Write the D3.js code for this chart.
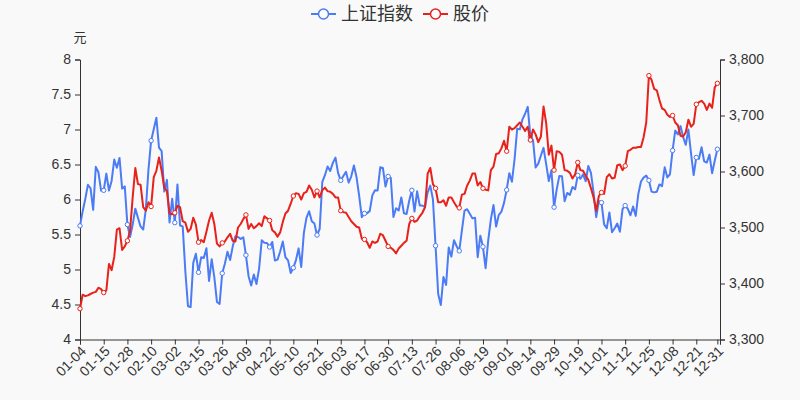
<!DOCTYPE html>
<html>
  <head>
    <meta charset="utf-8">
    <title>上证指数 vs 股价</title>
    <script type="text/javascript" src="https://d3js.org/d3.v7.min.js"></script>
    <style>
      body { margin: 0; background: #f9f9f9; }
      text { font-family: "Liberation Sans", Arial, "Noto Sans CJK SC", sans-serif; fill: #333; }
    </style>
  </head>

  <body>
    <script>

    // trading days 2021
    var dates = [
      "01-04","01-05","01-06","01-07","01-08","01-11","01-12","01-13","01-14","01-15","01-18","01-19","01-20","01-21","01-22","01-25","01-26","01-27","01-28","01-29",
      "02-01","02-02","02-03","02-04","02-05","02-08","02-09","02-10","02-18","02-19","02-22","02-23","02-24","02-25","02-26",
      "03-01","03-02","03-03","03-04","03-05","03-08","03-09","03-10","03-11","03-12","03-15","03-16","03-17","03-18","03-19","03-22","03-23","03-24","03-25","03-26","03-29","03-30","03-31",
      "04-01","04-02","04-06","04-07","04-08","04-09","04-12","04-13","04-14","04-15","04-16","04-19","04-20","04-21","04-22","04-23","04-26","04-27","04-28","04-29","04-30",
      "05-06","05-07","05-10","05-11","05-12","05-13","05-14","05-17","05-18","05-19","05-20","05-21","05-24","05-25","05-26","05-27","05-28","05-31",
      "06-01","06-02","06-03","06-04","06-07","06-08","06-09","06-10","06-11","06-15","06-16","06-17","06-18","06-21","06-22","06-23","06-24","06-25","06-28","06-29","06-30",
      "07-01","07-02","07-05","07-06","07-07","07-08","07-09","07-12","07-13","07-14","07-15","07-16","07-19","07-20","07-21","07-22","07-23","07-26","07-27","07-28","07-29","07-30",
      "08-02","08-03","08-04","08-05","08-06","08-09","08-10","08-11","08-12","08-13","08-16","08-17","08-18","08-19","08-20","08-23","08-24","08-25","08-26","08-27","08-30","08-31",
      "09-01","09-02","09-03","09-06","09-07","09-08","09-09","09-10","09-13","09-14","09-15","09-16","09-17","09-22","09-23","09-24","09-27","09-28","09-29","09-30",
      "10-08","10-11","10-12","10-13","10-14","10-15","10-18","10-19","10-20","10-21","10-22","10-25","10-26","10-27","10-28","10-29",
      "11-01","11-02","11-03","11-04","11-05","11-08","11-09","11-10","11-11","11-12","11-15","11-16","11-17","11-18","11-19","11-22","11-23","11-24","11-25","11-26","11-29","11-30",
      "12-01","12-02","12-03","12-06","12-07","12-08","12-09","12-10","12-13","12-14","12-15","12-16","12-17","12-20","12-21","12-22","12-23","12-24","12-27","12-28","12-29","12-30","12-31"
    ];

    // 上证指数 (right axis)
    var indexValues = [
      3502.96,3528.68,3550.88,3576.20,3570.11,3531.50,3608.34,3598.65,3565.90,3566.38,3596.22,3566.12,3583.09,3621.26,3606.75,3624.24,3569.43,3573.34,3505.18,3483.07,
      3505.28,3533.68,3517.31,3501.86,3496.33,3532.71,3603.49,3655.09,3675.36,3696.17,3642.44,3636.36,3564.08,3585.05,3509.08,
      3551.40,3508.59,3576.90,3503.49,3501.99,3421.41,3359.29,3357.74,3436.83,3453.08,3419.95,3446.73,3445.55,3463.07,3404.66,3443.44,3411.51,3367.06,3363.59,3418.33,3435.30,3456.68,3441.91,
      3466.33,3484.39,3482.99,3479.63,3482.56,3450.68,3412.95,3396.47,3416.10,3398.99,3426.62,3477.07,3472.94,3472.31,3465.11,3474.17,3441.17,3442.61,3457.07,3474.90,3446.86,
      3441.28,3418.87,3427.99,3441.85,3462.75,3429.54,3490.38,3517.62,3529.01,3510.96,3506.94,3486.56,3497.28,3581.34,3593.36,3608.85,3600.78,3615.48,
      3624.71,3597.14,3584.22,3591.84,3599.54,3580.11,3591.40,3610.86,3589.75,3556.56,3518.33,3525.10,3525.60,3529.18,3557.41,3566.65,3566.22,3607.56,3606.37,3573.18,3591.20,
      3588.78,3518.76,3534.32,3530.26,3553.72,3525.50,3524.09,3547.84,3566.44,3528.50,3564.59,3539.30,3539.12,3536.79,3562.70,3574.73,3550.40,3467.44,3381.18,3361.59,3411.72,3397.36,
      3464.29,3447.99,3477.22,3466.56,3458.23,3494.63,3529.93,3532.62,3524.74,3516.30,3517.34,3446.98,3485.29,3465.55,3427.33,3477.13,3514.47,3540.38,3501.66,3522.16,3528.15,3543.94,
      3567.10,3597.04,3581.73,3621.86,3676.59,3675.19,3693.13,3703.11,3715.37,3662.60,3656.22,3607.09,3613.97,3628.49,3642.22,3613.07,3582.83,3602.22,3536.29,3568.17,
      3592.17,3591.71,3546.94,3561.76,3558.28,3572.37,3568.14,3593.15,3587.00,3594.78,3582.60,3609.86,3597.64,3562.31,3518.42,3547.34,
      3544.48,3505.63,3498.54,3526.87,3491.57,3498.63,3507.00,3492.46,3532.79,3539.10,3533.30,3521.79,3537.37,3520.71,3560.37,3582.08,3589.09,3592.70,3584.18,3564.09,3562.70,3563.89,
      3576.89,3573.84,3607.43,3589.31,3595.09,3637.57,3673.04,3666.35,3681.08,3661.53,3647.63,3675.02,3632.36,3593.60,3625.13,3622.62,3643.34,3618.05,3615.97,3630.11,3597.00,3619.19,3639.78
    ];

    // 股价 (left axis, 元)
    var priceValues = [
      4.44,4.64,4.62,4.63,4.65,4.67,4.68,4.74,4.72,4.67,4.70,5.08,4.99,5.18,5.57,5.59,5.28,5.33,5.41,5.55,
      6.03,6.45,6.22,6.21,5.89,5.84,5.96,5.90,6.32,6.41,6.60,6.41,6.17,6.12,5.80,
      5.79,5.81,5.91,5.89,5.69,5.67,5.54,5.58,5.74,5.64,5.39,5.42,5.39,5.54,5.70,5.81,5.65,5.37,5.33,5.38,5.40,5.46,5.51,
      5.41,5.40,5.60,5.65,5.72,5.78,5.58,5.65,5.59,5.62,5.66,5.62,5.76,5.73,5.70,5.56,5.53,5.47,5.53,5.68,5.80,
      5.84,5.94,6.05,6.09,6.08,6.00,6.09,6.11,6.20,6.14,6.03,6.12,6.03,6.13,6.17,6.12,6.11,6.08,
      6.03,6.03,5.84,5.82,5.81,5.75,5.69,5.65,5.61,5.60,5.44,5.43,5.39,5.31,5.40,5.38,5.40,5.51,5.49,5.41,5.33,
      5.31,5.28,5.23,5.30,5.34,5.38,5.41,5.65,5.73,5.68,5.70,5.76,5.81,5.89,6.37,6.45,6.22,6.16,5.96,5.96,5.99,5.91,
      6.03,6.03,5.96,5.90,5.88,6.07,6.08,6.20,6.27,6.37,6.37,6.20,6.25,6.16,6.14,6.13,6.42,6.47,6.65,6.66,6.73,6.84,
      6.69,7.04,7.00,7.02,7.06,7.10,7.04,6.98,7.04,6.85,7.00,6.93,6.82,6.90,7.33,7.09,6.64,6.77,6.42,6.69,
      6.68,6.64,6.42,6.41,6.38,6.30,6.36,6.53,6.42,6.41,6.34,6.28,6.16,6.03,5.84,6.05,
      6.10,6.08,6.32,6.36,6.30,6.31,6.49,6.50,6.42,6.48,6.69,6.71,6.74,6.74,6.75,6.75,6.89,7.10,7.77,7.71,7.58,7.56,
      7.42,7.30,7.28,7.21,7.18,7.20,7.10,7.06,6.91,6.90,6.96,7.14,7.04,7.08,7.36,7.39,7.41,7.37,7.28,7.37,7.31,7.60,7.66
    ];

    var priceTicks = [4, 4.5, 5, 5.5, 6, 6.5, 7, 7.5, 8];
    var indexTicks = [3300, 3400, 3500, 3600, 3700, 3800];

    var width = 800, height = 400;
    var plotLeft = 80, plotRight = 720, plotTop = 59.5, plotBottom = 339.5;
    var blue = "#4b7bf5", red = "#e8211a";

    var svg = d3.select("body").append("svg")
                .attr("width", width)
                .attr("height", height)
                .style("background", "#f9f9f9");

    // one spare slot at the end, like the original
    var x = d3.scaleLinear().domain([0, dates.length]).range([plotLeft, plotRight]);
    var yPrice = d3.scaleLinear().domain([4, 8]).range([plotBottom, plotTop]);
    var yIndex = d3.scaleLinear().domain([3300, 3800]).range([plotBottom, plotTop]);

    // axes
    var tickIdx = d3.range(0, dates.length, 9).concat([dates.length - 1]);

    var xAxis = d3.axisBottom(x)
                  .tickValues(tickIdx.concat([dates.length]))
                  .tickSize(5)
                  .tickFormat(function(i) { return dates[i] || ""; });

    var gx = svg.append("g")
                .attr("transform", "translate(0," + plotBottom + ")")
                .call(xAxis);
    gx.selectAll("text")
      .style("font-size", "14px")
      .attr("text-anchor", "end")
      .attr("dy", "0.35em")
      .attr("x", 0).attr("y", 0)
      .attr("transform", "translate(3,9) rotate(-45)");

    var gl = svg.append("g")
                .attr("transform", "translate(" + plotLeft + ",0)")
                .call(d3.axisLeft(yPrice).tickValues(priceTicks).tickSize(5).tickPadding(4)
                        .tickFormat(d3.format("")));
    gl.selectAll("text").style("font-size", "14px");

    var gr = svg.append("g")
                .attr("transform", "translate(" + plotRight + ",0)")
                .call(d3.axisRight(yIndex).tickValues(indexTicks).tickSize(5).tickPadding(4)
                        .tickFormat(d3.format(",")));
    gr.selectAll("text").style("font-size", "14px");

    svg.selectAll(".domain, .tick line").attr("stroke", "#333");
    svg.selectAll(".tick text").attr("fill", "#333");

    svg.append("text")
       .attr("x", plotLeft).attr("y", 42)
       .attr("text-anchor", "middle")
       .style("font-size", "13px")
       .text("元");

    // lines
    function drawSeries(values, yScale, color) {
      var line = d3.line()
                   .x(function(d, i) { return x(i); })
                   .y(function(d) { return yScale(d); });
      svg.append("path")
         .datum(values)
         .attr("fill", "none")
         .attr("stroke", color)
         .attr("stroke-width", 2)
         .attr("stroke-linejoin", "round")
         .attr("d", line);
      svg.selectAll(null)
         .data(tickIdx)
         .enter()
           .append("circle")
           .attr("cx", function(i) { return x(i); })
           .attr("cy", function(i) { return yScale(values[i]); })
           .attr("r", 2.2)
           .attr("fill", "#fff")
           .attr("stroke", color)
           .attr("stroke-width", 1);
    }
    drawSeries(indexValues, yIndex, blue);
    drawSeries(priceValues, yPrice, red);

    // legend
    var legend = [
      { name: "上证指数", color: blue, x: 311 },
      { name: "股价", color: red, x: 423 }
    ];
    var lg = svg.selectAll(".legend")
                .data(legend)
                .enter()
                  .append("g")
                  .attr("transform", function(d) { return "translate(" + d.x + ",14)"; });
    lg.append("line")
      .attr("x1", 0).attr("x2", 25)
      .attr("stroke", function(d) { return d.color; })
      .attr("stroke-width", 2);
    lg.append("circle")
      .attr("cx", 12.5).attr("r", 5)
      .attr("fill", "#fff")
      .attr("stroke", function(d) { return d.color; })
      .attr("stroke-width", 1.5);
    lg.append("text")
      .attr("x", 30).attr("dy", "0.35em")
      .style("font-size", "18px")
      .style("font-family", "'Noto Sans CJK SC', sans-serif")
      .text(function(d) { return d.name; });

  </script>
  </body>
</html>
